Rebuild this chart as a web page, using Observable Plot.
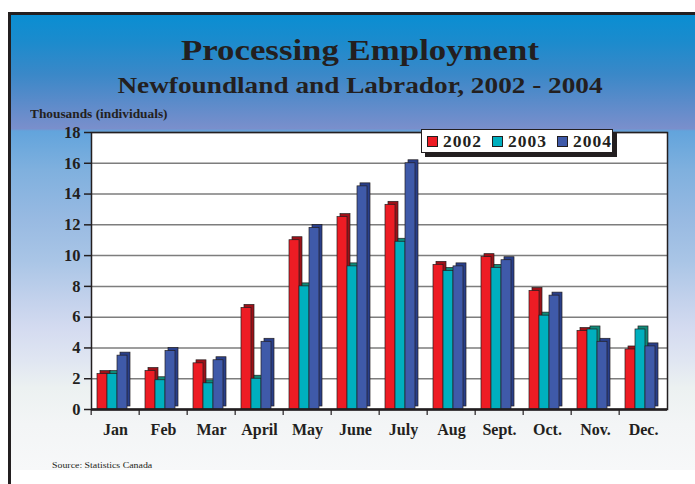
<!DOCTYPE html>
<html>
<head>
<meta charset="utf-8">
<script src="https://cdn.jsdelivr.net/npm/d3@7"></script>
<script src="https://cdn.jsdelivr.net/npm/@observablehq/plot@0.6"></script>
<style>
  html, body { margin: 0; padding: 0; background: #fff; }
  #root { position: relative; width: 695px; height: 484px; overflow: hidden; font-family: "Liberation Serif", "Times New Roman", serif; color: #231f20; }
  #panel { position: absolute; left: 9px; top: 12px; width: 686px; height: 458px; border-top: 3px solid #231f20; box-sizing: border-box;
    background: linear-gradient(to bottom,
      #0a8ed2 0%, #1c8bcd 6%, #3a88c8 13%, #5a8bca 19%, #7a8fcc 25%,
      #62a4dc 25.5%, #7fb0de 34%, #98bae2 45%, #a9c5e6 54%, #c4d2ec 63%, #d4dbf0 69%,
      #e0e6f2 76%, #ecf1f1 82%, #f3f5f6 90%, #f7f8f9 100%); }
  #leftline { position: absolute; left: 8px; top: 12px; width: 3px; height: 472px; background: #231f20; }
  .t { position: absolute; white-space: nowrap; font-weight: bold; transform-origin: center center; }
  #title { left: 0; width: 720px; text-align: center; top: 33px; font-size: 30px; transform: scaleX(1.16); }
  #subtitle { left: 0; width: 720px; text-align: center; top: 72px; font-size: 23.5px; transform: scaleX(1.16); }
  #ylab { left: 30px; top: 108px; font-size: 11.5px; transform: scaleX(1.16); transform-origin: left center; }
  #source { position: absolute; left: 52px; top: 460px; font-size: 8.5px; white-space: nowrap; transform: scaleX(1.16); transform-origin: left center; }
  #chart { position: absolute; left: 0; top: 110px; }
  #legend { position: absolute; left: 421px; top: 129px; width: 192px; height: 24px; box-sizing: border-box; background: #fff;
    border: 1px solid #231f20; box-shadow: 4px 4px 0 #231f20; display: flex; align-items: center; padding-left: 5px; }
  .li { display: flex; align-items: center; margin-right: 10px; font-weight: bold; font-size: 17.5px; letter-spacing: 1px; }
  .sw { width: 9px; height: 9px; border: 1px solid #231f20; margin-right: 5px; }
</style>
</head>
<body>
<div id="root">
  <div id="panel"></div>
  <div id="leftline"></div>
  <div class="t" id="title">Processing Employment</div>
  <div class="t" id="subtitle">Newfoundland and Labrador, 2002 - 2004</div>
  <div class="t" id="ylab">Thousands (individuals)</div>
  <div id="chart"></div>
  <div id="legend"></div>
  <div id="source">Source: Statistics Canada</div>
</div>
<script>
const months = ["Jan", "Feb", "Mar", "April", "May", "June", "July", "Aug", "Sept.", "Oct.", "Nov.", "Dec."];
const years = ["2002", "2003", "2004"];
const v2002 = [2.3, 2.5, 3.0, 6.6, 11.0, 12.5, 13.3, 9.4, 9.9, 7.7, 5.1, 3.9];
const v2003 = [2.3, 1.9, 1.7, 2.0, 8.0, 9.3, 10.9, 9.0, 9.2, 6.1, 5.2, 5.2];
const v2004 = [3.5, 3.8, 3.2, 4.4, 11.8, 14.5, 16.0, 9.3, 9.7, 7.4, 4.4, 4.1];
const yTicks = [0, 2, 4, 6, 8, 10, 12, 14, 16, 18];
const colors = ["#ed1c24", "#00afbe", "#3f5aa9"];
const sideColors = ["#9c1118", "#0f8a78", "#293f8a"];

const series = [v2002, v2003, v2004];
const data = [];
months.forEach((m, i) => years.forEach((yr, j) => data.push({ month: m, year: yr, value: series[j][i] })));

const W = 695, H = 340, mL = 87, mR = 24, mT = 22, mB = 41;
const step = (W - mL - mR) / months.length;

const plot = Plot.plot({
  width: W, height: H,
  marginLeft: mL, marginRight: mR, marginTop: mT, marginBottom: mB,
  style: { background: "transparent", fontFamily: "'Liberation Serif', 'Times New Roman', serif", color: "#231f20", overflow: "visible" },
  fx: { domain: months, padding: 0, label: null },
  x: { domain: years, paddingInner: 0, paddingOuter: 0.712, align: 0.32, axis: null },
  y: { domain: [0, 18], label: null },
  color: { domain: years, range: colors },
  marks: [
    Plot.frame({ facet: "super", fill: "white", stroke: null }),
    Plot.gridY(yTicks, { stroke: "#7d7d7d", strokeOpacity: 1, strokeWidth: 1.5 }),
    Plot.barY(data, { fx: "month", x: "year", y: "value", fill: d => sideColors[years.indexOf(d.year)], dx: 3, dy: -3, stroke: "#231f20", strokeWidth: 0.7 }),
    Plot.barY(data, { fx: "month", x: "year", y: "value", fill: "year", stroke: "#231f20", strokeWidth: 0.7 }),
    Plot.ruleY([0], { stroke: "#231f20", strokeWidth: 2.5 }),
    Plot.frame({ facet: "super", stroke: "#231f20", strokeWidth: 1.5 }),
    Plot.axisY(yTicks, { tickSize: 7, tickPadding: 4, fontSize: 16.5, fontWeight: "bold", letterSpacing: 1, label: null, stroke: "#231f20", strokeWidth: 1.5 }),
    Plot.axisFx({ anchor: "bottom", tickSize: 0, tickPadding: 14, fontSize: 16, fontWeight: "bold", letterSpacing: 1.5, label: null }),
    Plot.axisFx({ anchor: "bottom", tickSize: 6, tickFormat: () => "", dx: -step / 2, label: null, stroke: "#231f20", strokeWidth: 1.2 })
  ]
});
document.getElementById("chart").appendChild(plot);

const legend = d3.select("#legend");
years.forEach((yr, j) => {
  const item = legend.append("div").attr("class", "li");
  item.append("div").attr("class", "sw").style("background", colors[j]);
  item.append("span").text(yr);
});
</script>
</body>
</html>
